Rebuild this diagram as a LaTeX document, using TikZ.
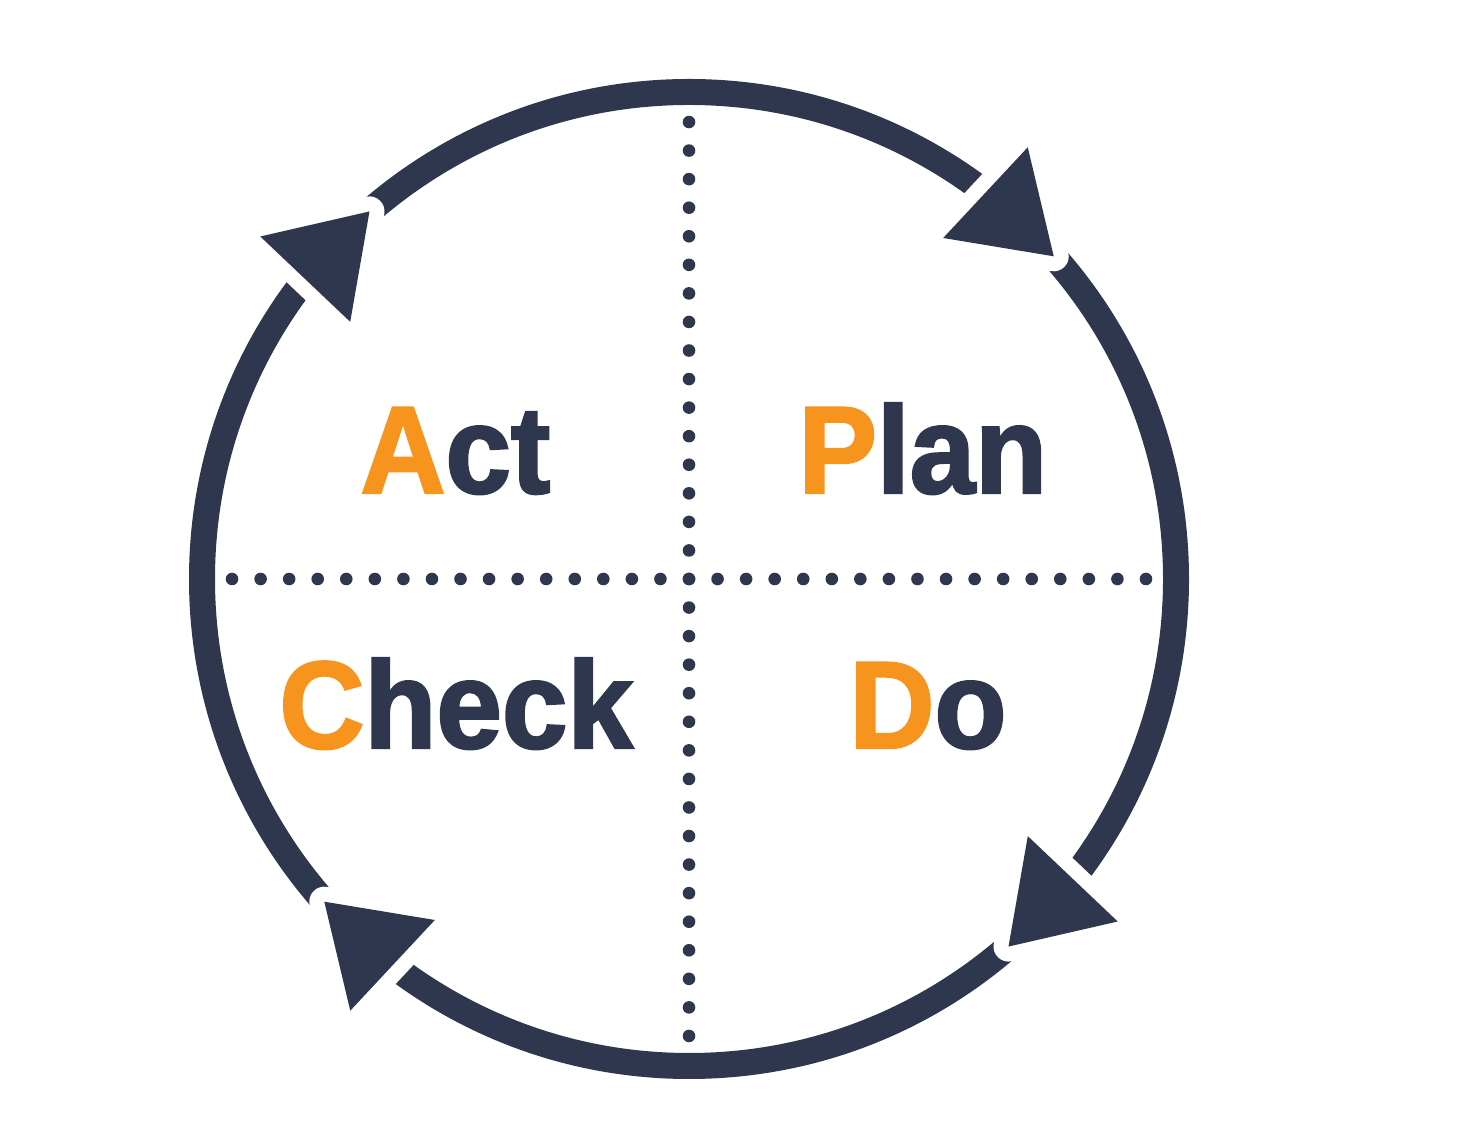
\documentclass[tikz,border=0pt]{standalone}
\usepackage{fontspec}
\usepackage{tikz}
\usetikzlibrary{calc}

\newfontfamily\pdcafont{Liberation Sans}[FakeStretch=0.95, FakeBold=2]
\definecolor{pdcanavy}{HTML}{2E374E}
\definecolor{pdcaorange}{HTML}{F7941E}

\begin{document}
\begin{tikzpicture}[
            x = 0.5pt, y = 0.5pt, % one unit = one pixel of the sketch
            ring/.style = {draw = pdcanavy, line width = 13pt},
            halo/.style = {draw = white, fill = white, line width = 15pt, line join = round},
            head/.style = {fill = pdcanavy},
            word/.style = {anchor = base west, inner sep = 0pt, text = pdcanavy,
                font = \pdcafont\bfseries\fontsize{62}{70}\selectfont}
        ]

        \useasboundingbox (0,0) rectangle (1476,1139);

        \coordinate (c) at (689,560);

        % dotted cross
        \foreach \k in {-16,...,16} {
            \fill[pdcanavy] ($(c)+(\k*28.56,0)$) circle (3.15pt);
            \fill[pdcanavy] ($(c)+(0,\k*28.56)$) circle (3.15pt);
        }

        % cycle
        \draw[ring] (c) circle (487);

        \foreach \a in {52.5,142,232.5,322} {
            \coordinate (base) at ($(c)+(\a:487)$);
            \coordinate (tip) at ($(c)+(\a-11:487)$);
            \coordinate (left) at ($(base)!31pt!90:(tip)$);
            \coordinate (right) at ($(base)!31pt!-90:(tip)$);
            \path[halo] (left) -- (tip) -- (right) -- cycle;
            \path[head] (left) -- (tip) -- (right) -- cycle;
        }

        % quadrant labels
        \node[word] (act) at (360,646) {{\color{pdcaorange}A}ct};
        \node[word] (plan) at (798,646) {{\color{pdcaorange}P}lan};
        \node[word] (check) at (279,391) {{\color{pdcaorange}C}heck};
        \node[word] (do) at (849,391) {{\color{pdcaorange}D}o};

\end{tikzpicture}
\end{document}
